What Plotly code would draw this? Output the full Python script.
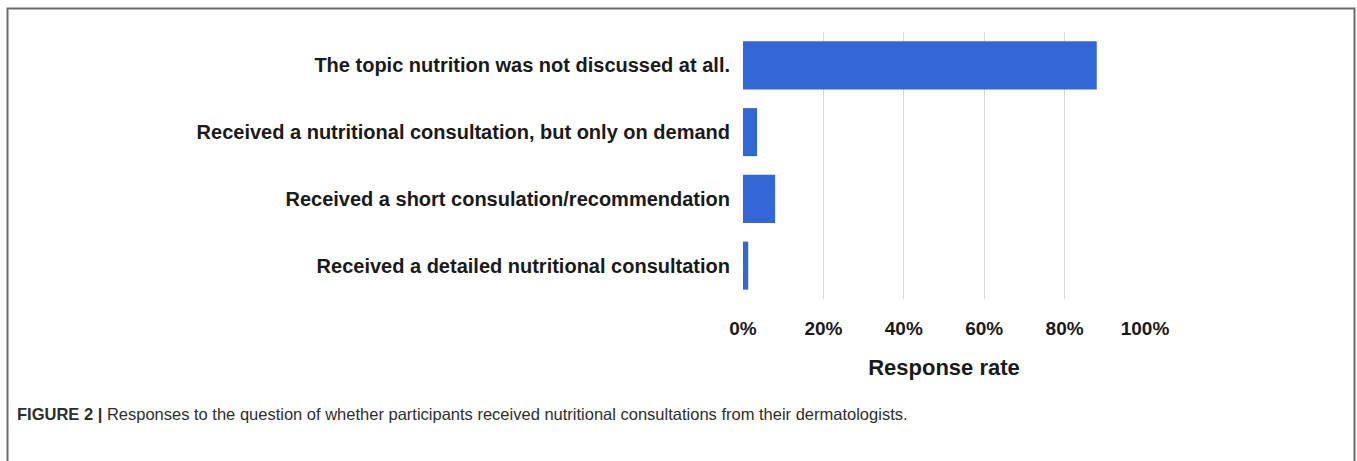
import plotly.graph_objects as go

# Survey answers and their share of respondents (%)
categories = [
    "The topic nutrition was not discussed at all.",
    "Received a nutritional consultation, but only on demand",
    "Received a short consulation/recommendation",
    "Received a detailed nutritional consultation",
]
response_rate = [88.0, 3.5, 8.0, 1.3]
tick_values = [0, 20, 40, 60, 80, 100]
tick_labels = ["0%", "20%", "40%", "60%", "80%", "100%"]

W, H = 1357, 461
ML, MR, MT, MB = 743, 212, 32, 162
PW, PH = W - ML - MR, H - MT - MB


def px_x(px):
    return (px - ML) / PW


def px_y(py):
    return (H - MB - py) / PH


fig = go.Figure(
    go.Bar(
        x=response_rate,
        y=categories,
        orientation="h",
        marker=dict(color="#3367d6", line=dict(width=0)),
        hoverinfo="x+y",
    )
)

fig.update_layout(
    width=W,
    height=H,
    margin=dict(l=ML, r=MR, t=MT, b=MB, pad=0),
    paper_bgcolor="white",
    plot_bgcolor="white",
    bargap=0.28,
    showlegend=False,
    font=dict(family="Liberation Sans, Arial, sans-serif", color="#1a1a1a"),
    xaxis=dict(
        range=[0, 100],
        tickvals=tick_values,
        ticktext=tick_labels,
        showgrid=True,
        gridcolor="#d9d9d9",
        gridwidth=1,
        zeroline=False,
        showline=False,
        ticks="",
        ticklabelstandoff=16,
        tickfont=dict(size=19, color="#1a1a1a", weight="bold"),
        title=dict(
            text="<b>Response rate</b>",
            font=dict(size=22, color="#1a1a1a"),
            standoff=21,
        ),
    ),
    yaxis=dict(
        autorange="reversed",
        showgrid=False,
        zeroline=False,
        showline=False,
        ticks="",
        ticklabelstandoff=12,
        tickfont=dict(size=20, color="#1a1a1a", weight="bold"),
    ),
)

# Figure frame
fig.add_shape(
    type="rect",
    xref="paper",
    yref="paper",
    x0=px_x(7.5),
    x1=px_x(1354.5),
    y0=px_y(480),
    y1=px_y(8.5),
    line=dict(color="#6a6a6a", width=2),
    fillcolor="rgba(0,0,0,0)",
    layer="above",
)

# Caption
fig.add_annotation(
    xref="paper",
    yref="paper",
    x=px_x(15),
    y=px_y(414),
    xanchor="left",
    yanchor="middle",
    showarrow=False,
    align="left",
    text="<b>FIGURE 2 |</b> Responses to the question of whether participants "
    "received nutritional consultations from their dermatologists.",
    font=dict(family="Liberation Sans, Arial, sans-serif", size=16.5, color="#2e2e2e"),
)

fig.write_html("out.html")
